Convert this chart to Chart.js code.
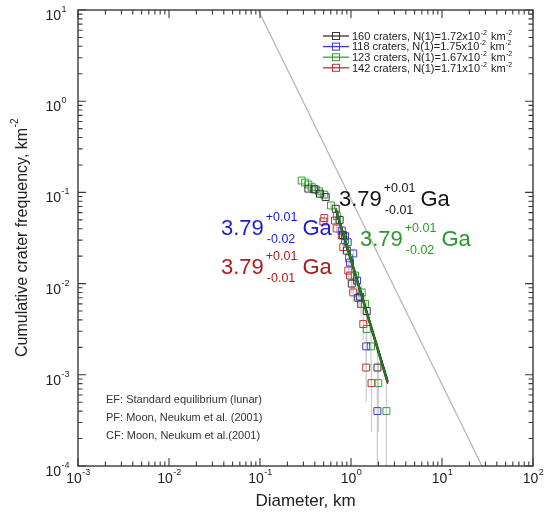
<!DOCTYPE html>
<html>
<head>
<meta charset="utf-8">
<script src="https://cdn.jsdelivr.net/npm/chart.js@4.4.0/dist/chart.umd.min.js"></script>
<style>
  html, body { margin: 0; padding: 0; background: #fff; }
  #wrap { width: 544px; height: 518px; }
</style>
</head>
<body>
<div id="wrap"><canvas id="chart" width="544" height="518"></canvas></div>
<script>
// ─── Data (diameter km, cumulative frequency km^-2) ───
const blackD = [0.340, 0.395, 0.456, 0.527, 0.679, 0.75, 0.82, 0.90, 1.019, 1.20, 1.49, 1.954];
const blackN = [0.110, 0.108, 0.0968, 0.0888, 0.0662, 0.050, 0.034, 0.023, 0.0100, 0.0070, 0.0050, 0.0012];

const blueD = [0.791, 0.860, 0.920, 0.975, 1.059, 1.164, 1.256, 1.47, 1.95];
const blueN = [0.0382, 0.0331, 0.0284, 0.017, 0.0214, 0.0108, 0.0072, 0.00205, 0.0004];

const greenD = [0.287, 0.313, 0.340, 0.370, 0.409, 0.445, 0.509, 0.603, 0.70, 0.859, 0.95, 1.107, 1.311, 1.427, 1.49, 1.66, 1.995, 2.45];
const greenN = [0.135, 0.128, 0.122, 0.114, 0.108, 0.103, 0.0944, 0.0719, 0.055, 0.0297, 0.019, 0.01225, 0.0080, 0.0060, 0.00318, 0.00205, 0.00081, 0.0004];

const redD = [0.497, 0.509, 0.667, 0.696, 0.791, 0.823, 0.934, 0.975, 1.059, 1.288, 1.365, 1.47, 1.68];
const redN = [0.048, 0.0523, 0.0492, 0.0402, 0.0337, 0.0251, 0.0139, 0.01225, 0.0080, 0.0060, 0.0036, 0.0012, 0.00081];

// isochron fits (start / end)
const fitD = [0.679, 2.53];
const blackFit = [0.0662, 0.00085];
const blueFit = [0.0662, 0.00084];
const greenFit = [0.0668, 0.00083];
const redFit = [0.0655, 0.00080];

// standard equilibrium line
const eqD = [0.0955, 27.5];
const eqN = [10, 0.0001];

const oneCrater = 0.0004;   // frequency of a single crater

const craterCounts = [160, 118, 123, 142];
const n1Values = ['1.72', '1.75', '1.67', '1.71'];
const ageValue = '3.79';
const agePlus = ['+0.01', '+0.01', '+0.01', '+0.01'];
const ageMinus = ['-0.01', '-0.02', '-0.02', '-0.01'];

const xDecades = [-3, -2, -1, 0, 1, 2];
const yDecades = [-4, -3, -2, -1, 0, 1];

const notes = ['EF: Standard equilibrium (lunar)', 'PF: Moon, Neukum et al. (2001)', 'CF: Moon, Neukum et al.(2001)'];

// ─── Style ───
const FONT = "'Liberation Sans', Arial, Helvetica, sans-serif";
const pointColors = ['#333333', '#3b3bd0', '#36a036', '#c03333'];
const lineColors = ['#1e1e1e', '#2020c0', '#1f7f1f', '#b02020'];
const textColors = ['#151515', '#1c1cd8', '#2c982c', '#aa1c1c'];

const pts = (xs, ys) => xs.map((x, i) => ({ x, y: ys[i] }));

function pointSet(label, xs, ys, k) {
    return {
        label, type: 'scatter', data: pts(xs, ys),
        pointStyle: 'rect', pointRadius: 4.9,
        borderColor: pointColors[k], backgroundColor: 'rgba(0,0,0,0)',
        borderWidth: 1, errorBars: true, order: 5
    };
}
function lineSet(label, xs, ys, color, width, order) {
    return {
        label, type: 'line', data: pts(xs, ys),
        borderColor: color, borderWidth: width, pointRadius: 0,
        fill: false, tension: 0, order
    };
}

// ─── Helpers ───
function supText(ctx, x, y, base, sup, baseSize, supSize, rise) {
    ctx.font = `${baseSize}px ${FONT}`;
    ctx.fillText(base, x, y);
    const w = ctx.measureText(base).width;
    ctx.font = `${supSize}px ${FONT}`;
    ctx.fillText(sup, x + w + 0.5, y - rise);
    return w + 0.5 + ctx.measureText(sup).width;
}

// ─── Plugins ───
const errorBarPlugin = {
    id: 'errorBars',
    beforeDatasetsDraw(chart) {
        const { ctx, chartArea: a, scales: { x, y } } = chart;
        ctx.save();
        ctx.beginPath();
        ctx.rect(a.left, a.top, a.right - a.left, a.bottom - a.top);
        ctx.clip();
        ctx.strokeStyle = '#cbcbcb';
        ctx.lineWidth = 1.2;
        chart.data.datasets.forEach(ds => {
            if (!ds.errorBars) return;
            ds.data.forEach(p => {
                const n = Math.max(1, Math.round(p.y / oneCrater));
                const s = 1 / Math.sqrt(n);
                const lo = p.y * (1 - s) > y.min ? p.y * (1 - s) : y.min;
                const hi = p.y * (1 + s);
                const px = x.getPixelForValue(p.x);
                ctx.beginPath();
                ctx.moveTo(px, y.getPixelForValue(lo));
                ctx.lineTo(px, y.getPixelForValue(hi));
                ctx.stroke();
            });
        });
        ctx.restore();
    }
};

const axesPlugin = {
    id: 'logAxes',
    afterDraw(chart) {
        const { ctx, chartArea: a, scales: { x, y } } = chart;
        ctx.save();
        ctx.strokeStyle = '#3a3a3a';
        ctx.lineWidth = 1.4;
        ctx.strokeRect(a.left, a.top, a.right - a.left, a.bottom - a.top);

        ctx.lineWidth = 1.1;
        const major = 8, minor = 4.5;
        // x ticks, bottom and top
        xDecades.forEach(e => {
            for (let m = 1; m <= 9; m++) {
                if (e === 2 && m > 1) break;
                const px = x.getPixelForValue(m * Math.pow(10, e));
                const len = m === 1 ? major : minor;
                ctx.beginPath();
                ctx.moveTo(px, a.bottom); ctx.lineTo(px, a.bottom - len);
                ctx.moveTo(px, a.top); ctx.lineTo(px, a.top + len);
                ctx.stroke();
            }
        });
        // y ticks, left and right
        yDecades.forEach(e => {
            for (let m = 1; m <= 9; m++) {
                if (e === 1 && m > 1) break;
                const py = y.getPixelForValue(m * Math.pow(10, e));
                const len = m === 1 ? major : minor;
                ctx.beginPath();
                ctx.moveTo(a.left, py); ctx.lineTo(a.left + len, py);
                ctx.moveTo(a.right, py); ctx.lineTo(a.right - len, py);
                ctx.stroke();
            }
        });

        // tick labels
        ctx.fillStyle = '#222';
        ctx.textAlign = 'left';
        ctx.textBaseline = 'alphabetic';
        xDecades.forEach(e => {
            const px = x.getPixelForValue(Math.pow(10, e));
            ctx.font = `14px ${FONT}`;
            const w1 = ctx.measureText('10').width;
            ctx.font = `9px ${FONT}`;
            const w2 = ctx.measureText(String(e)).width;
            supText(ctx, px - (w1 + w2) / 2, a.bottom + 17, '10', String(e), 14, 9, 8);
        });
        yDecades.forEach(e => {
            const py = y.getPixelForValue(Math.pow(10, e));
            ctx.font = `14px ${FONT}`;
            const w1 = ctx.measureText('10').width;
            supText(ctx, 61 - w1, py + 10, '10', String(e), 14, 9, 8);
        });

        // axis titles
        ctx.font = `17px ${FONT}`;
        ctx.textAlign = 'center';
        ctx.fillText('Diameter, km', (a.left + a.right) / 2, 506);
        ctx.save();
        ctx.translate(27, (a.top + a.bottom) / 2);
        ctx.rotate(-Math.PI / 2);
        ctx.font = `16px ${FONT}`;
        const tw = ctx.measureText('Cumulative crater frequency, km').width;
        ctx.font = `10px ${FONT}`;
        const sw = ctx.measureText('-2').width;
        ctx.textAlign = 'left';
        supText(ctx, -(tw + sw) / 2, 0, 'Cumulative crater frequency, km', '-2', 16, 10, 9);
        ctx.restore();

        // legend
        ctx.textAlign = 'left';
        craterCounts.forEach((c, i) => {
            const ly = 36 + i * 10.6;
            ctx.strokeStyle = pointColors[i];
            ctx.lineWidth = 1.3;
            ctx.beginPath();
            ctx.moveTo(323, ly); ctx.lineTo(349, ly);
            ctx.stroke();
            ctx.lineWidth = 1;
            ctx.strokeRect(332.5, ly - 3.5, 7, 7);
            ctx.fillStyle = '#222';
            let tx = 352;
            tx += supText(ctx, tx, ly + 3.8, `${c} craters, N(1)=${n1Values[i]}x10`, '-2', 11, 7, 5);
            supText(ctx, tx + 1, ly + 3.8, ' km', '-2', 11, 7, 5);
        });

        // notes
        ctx.fillStyle = '#333';
        ctx.font = `11px ${FONT}`;
        notes.forEach((t, i) => ctx.fillText(t, 106, 403 + i * 18));

        // model ages
        const agePos = [[339, 206], [221, 235], [360, 246], [221, 274]];
        agePos.forEach(([ax, ay], i) => {
            ctx.fillStyle = textColors[i];
            ctx.font = `22px ${FONT}`;
            ctx.fillText(ageValue, ax, ay);
            const sx = ax + ctx.measureText(ageValue).width + 2;
            ctx.font = `12.5px ${FONT}`;
            ctx.fillText(agePlus[i], sx, ay - 14);
            ctx.fillText(ageMinus[i], sx + 1, ay + 7.5);
            const sw2 = Math.max(ctx.measureText(agePlus[i]).width, ctx.measureText(ageMinus[i]).width + 1);
            ctx.font = `22px ${FONT}`;
            ctx.fillText('Ga', sx + sw2 + 5, ay);
        });
        ctx.restore();
    }
};

// ─── Chart ───
new Chart(document.getElementById('chart').getContext('2d'), {
    type: 'scatter',
    data: {
        datasets: [
            lineSet('Equilibrium', eqD, eqN, '#b8b8b8', 1.3, 10),
            pointSet('160 craters', blackD, blackN, 0),
            pointSet('118 craters', blueD, blueN, 1),
            pointSet('123 craters', greenD, greenN, 2),
            pointSet('142 craters', redD, redN, 3),
            lineSet('Red fit', fitD, redFit, lineColors[3], 2, 4),
            lineSet('Blue fit', fitD, blueFit, lineColors[1], 2, 3),
            lineSet('Black fit', fitD, blackFit, lineColors[0], 2, 2),
            lineSet('Green fit', fitD, greenFit, lineColors[2], 2, 1)
        ]
    },
    options: {
        responsive: false,
        animation: false,
        devicePixelRatio: 1,
        layout: { padding: { left: 78, top: 10, right: 11, bottom: 52 } },
        plugins: { legend: { display: false }, tooltip: { enabled: false } },
        scales: {
            x: { type: 'logarithmic', min: 0.001, max: 100, display: false },
            y: { type: 'logarithmic', min: 0.0001, max: 10, display: false }
        }
    },
    plugins: [errorBarPlugin, axesPlugin]
});
</script>
</body>
</html>
